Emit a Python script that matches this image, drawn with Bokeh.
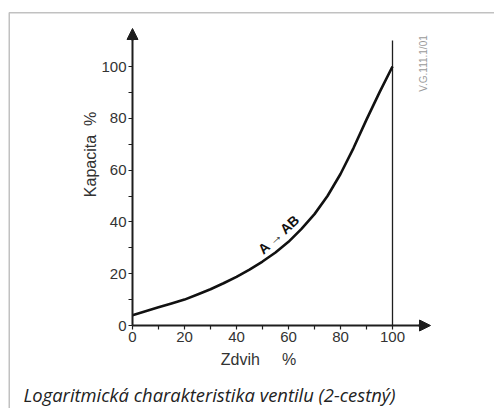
import numpy as np
from bokeh.plotting import figure
from bokeh.models import (FixedTicker, Label, Arrow, NormalHead, BoxAnnotation, ColumnDataSource)
from bokeh.embed import file_html
from bokeh.resources import INLINE

# data
stroke = [0, 5, 10, 15, 20, 25, 30, 35, 40, 45, 50, 55, 60, 65, 70, 75, 80, 85, 90, 95, 100]
capacity = [4, 5.5, 7, 8.5, 10, 12, 14, 16.3, 18.8, 21.6, 24.7, 28.2, 32.3, 37.3, 43,
            50, 58.5, 68.5, 79.5, 90, 100]
x_ticks = [0, 20, 40, 60, 80, 100]
x_minor = [10, 30, 50, 70, 90]
y_ticks = [0, 20, 40, 60, 80, 100]
y_minor = [10, 30, 50, 70, 90]
caption = "Logaritmická charakteristika ventilu (2-cestný)"
code = "V.G.111.1/01"
curve_label = "A\u2009→\u2009AB"
x_title = "Zdvih\u00a0\u00a0\u00a0\u00a0\u00a0%"
y_title = "Kapacita\u00a0\u00a0%"

DARK = "#1e1e1e"
TXT = "#333333"

W, H = 494, 408
X0, Y0, SX, SY = 132, 325, 2.6, 2.59   # pixel position of the origin and pixels per unit


def dx(px):
    return (px - X0) / SX


def dy(py):
    return (Y0 - py) / SY


p = figure(width=W, height=H, output_backend="svg", toolbar_location=None,
           x_range=(dx(0), dx(W)), y_range=(dy(H), dy(0)),
           min_border=0, min_border_left=0, min_border_right=0,
           min_border_top=0, min_border_bottom=0)
p.grid.visible = False
p.outline_line_color = None
p.background_fill_color = "white"
p.border_fill_color = "white"

AX_END = dx(420)
for ax, ticks, minor in ((p.xaxis[0], x_ticks, x_minor), (p.yaxis[0], y_ticks, y_minor)):
    ax.fixed_location = 0
    ax.bounds = (0, AX_END)
    ax.ticker = FixedTicker(ticks=ticks, minor_ticks=minor)
    ax.axis_line_color = DARK
    ax.axis_line_width = 2
    ax.major_tick_line_color = DARK
    ax.minor_tick_line_color = DARK
    ax.major_tick_line_width = 1.2
    ax.minor_tick_line_width = 1.2
    ax.major_tick_in = 0
    ax.minor_tick_in = 0
    ax.major_tick_out = 4
    ax.minor_tick_out = 4
    ax.major_label_text_font = "Liberation Sans"
    ax.major_label_text_font_size = "15px"
    ax.major_label_text_color = TXT
    ax.major_label_standoff = 2

# vertical line at 100 %
p.line(x=[100, 100], y=[0, 110], line_color=DARK, line_width=1.3)

# characteristic curve
src = ColumnDataSource(dict(x=stroke, y=capacity))
p.line("x", "y", source=src, line_color="#111111", line_width=2.6, line_join="round")

# axis arrowheads
p.add_layout(Arrow(end=NormalHead(size=11, fill_color=DARK, line_color=DARK),
                   x_start=0, y_start=dy(40), x_end=0, y_end=dy(28),
                   line_color=DARK, line_width=2))
p.add_layout(Arrow(end=NormalHead(size=11, fill_color=DARK, line_color=DARK),
                   x_start=dx(418), y_start=0, x_end=dx(430), y_end=0,
                   line_color=DARK, line_width=2))

# texts
p.add_layout(Label(x=dx(90), y=dy(154), text=y_title, angle=np.pi / 2,
                   text_align="center", text_baseline="middle",
                   text_font="Liberation Sans", text_font_size="16px", text_color=TXT))
p.add_layout(Label(x=dx(258), y=dy(359), text=x_title,
                   text_align="center", text_baseline="middle",
                   text_font="Liberation Sans", text_font_size="16px", text_color=TXT))
p.add_layout(Label(x=dx(278), y=dy(234), text=curve_label, angle=0.74,
                   text_align="center", text_baseline="middle",
                   text_font="Liberation Sans", text_font_style="bold",
                   text_font_size="14px", text_color="#111111"))
p.add_layout(Label(x=dx(423), y=dy(63), text=code, angle=np.pi / 2,
                   text_align="center", text_baseline="middle",
                   text_font="Liberation Sans", text_font_size="10px", text_color="#9a9a9a"))
p.add_layout(Label(x=dx(23), y=dy(394), text=caption,
                   text_align="left", text_baseline="alphabetic",
                   text_font="Open Sans", text_font_style="italic",
                   text_font_size="18.4px", text_color="#222222"))

# frame border around the figure
p.add_layout(BoxAnnotation(left=dx(8.75), right=dx(540), top=dy(12.25), bottom=dy(540),
                           fill_alpha=0, line_color="#333333", line_width=1.5))

open("out.html", "w").write(file_html(p, INLINE))
